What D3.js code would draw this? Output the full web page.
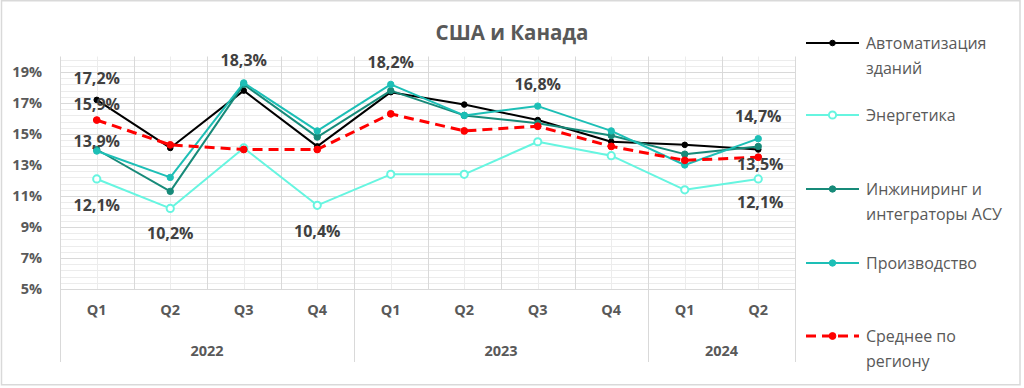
<!DOCTYPE html>
<html><head><meta charset="utf-8">
<script src="https://cdn.jsdelivr.net/npm/d3@7"></script>
<style>html,body{margin:0;padding:0;background:#fff}svg{display:block}text{font-family:"Open Sans","Noto Sans",sans-serif}</style>
</head><body><svg id="c" width="1024" height="388"></svg>
<script>
const title = "США и Канада";
const quarters = ["Q1","Q2","Q3","Q4","Q1","Q2","Q3","Q4","Q1","Q2"];
const years = [{label:"2022", from:0, to:4},{label:"2023", from:4, to:8},{label:"2024", from:8, to:10}];
const yTicks = [5,7,9,11,13,15,17,19];
const seriesNames = ["Автоматизация|зданий","Энергетика","Инжиниринг и|интеграторы АСУ","Производство","Среднее по|региону"];
const automation  = [17.2, 14.1, 17.8, 14.2, 17.7, 16.9, 15.9, 14.5, 14.3, 14.0];
const energy      = [12.1, 10.2, 14.1, 10.4, 12.4, 12.4, 14.5, 13.6, 11.4, 12.1];
const engineering = [14.0, 11.3, 18.2, 14.8, 17.8, 16.2, 15.7, 14.9, 13.7, 14.2];
const production  = [13.9, 12.2, 18.3, 15.2, 18.2, 16.2, 16.8, 15.2, 13.0, 14.7];
const average     = [15.9, 14.3, 14.0, 14.0, 16.3, 15.2, 15.5, 14.2, 13.3, 13.5];
// labelled points: [series index, point index]
const labelled = [[0,0],[4,0],[3,0],[1,0],[1,1],[3,2],[1,3],[3,4],[3,6],[3,9],[4,9],[1,9]];

const seriesData = [automation, energy, engineering, production, average];
const styles = [
  {color:"#000000", w:2, dash:null, r:2.8, hollow:false},
  {color:"#66F5E0", w:2, dash:null, r:3.6, hollow:true},
  {color:"#178A79", w:2, dash:null, r:3.2, hollow:false},
  {color:"#1DBFB6", w:2, dash:null, r:3.2, hollow:false},
  {color:"#FF0000", w:3, dash:"10,6", r:3.4, hollow:false}
];
// label offsets (dx, dy of text centre relative to point)
const labelOffsets = [[0,-22],[0,-16],[0,-10],[0,26],[0,25],[0,-22],[0,26],[0,-22],[0,-22],[0,-22],[2,7],[2,23]];

const svg = d3.select("#c");
const L=60, R=795, T=56.5, B=289;
const x = d3.scaleBand().domain(d3.range(quarters.length)).range([L,R]).padding(0);
const cx = i => x(i) + x.bandwidth()/2;
const y = d3.scaleLinear().domain([5,20]).range([B,T]);

svg.append("rect").attr("x",1.5).attr("y",0.75).attr("width",1018.5).attr("height",384)
  .attr("fill","#fff").attr("stroke","#d9d9d9").attr("stroke-width",1.5);

svg.append("text").attr("x",512).attr("y",40).attr("text-anchor","middle")
  .attr("font-size",20.5).attr("font-weight","bold").attr("fill","#595959").text(title);

const g = svg.append("g");
const minor = d3.range(0,38).map(k=>+(5+0.4*k).toFixed(1)).filter(v=>v<=19.8 && !yTicks.includes(v));
g.selectAll(".mh").data(minor).join("line")
  .attr("x1",L).attr("x2",R).attr("y1",d=>Math.round(y(d))+0.5).attr("y2",d=>Math.round(y(d))+0.5)
  .attr("stroke","#ececec").attr("stroke-width",1);
g.selectAll(".mv").data(d3.range(quarters.length)).join("line")
  .attr("x1",d=>Math.round(cx(d))+0.5).attr("x2",d=>Math.round(cx(d))+0.5).attr("y1",T).attr("y2",B)
  .attr("stroke","#ececec");
g.selectAll(".Mh").data(yTicks).join("line")
  .attr("x1",L).attr("x2",R).attr("y1",d=>Math.round(y(d))+0.5).attr("y2",d=>Math.round(y(d))+0.5)
  .attr("stroke","#d9d9d9");
g.selectAll(".Mv").data(d3.range(quarters.length+1)).join("line")
  .attr("x1",d=>Math.round(L+d*x.bandwidth())+0.5).attr("x2",d=>Math.round(L+d*x.bandwidth())+0.5)
  .attr("y1",T).attr("y2",B).attr("stroke","#d9d9d9");

const yAxis = d3.axisLeft(y).tickValues(yTicks).tickSize(0).tickPadding(0).tickFormat(d=>d+"%");
const ya = svg.append("g").attr("transform",`translate(${L-18},0)`).call(yAxis);
ya.select(".domain").remove();
ya.selectAll("text").attr("font-size",14.5).attr("font-weight","bold").attr("fill","#595959")
  .attr("font-family","'Open Sans',sans-serif");

const xAxis = d3.axisBottom(x).tickSize(0).tickPadding(0).tickFormat(i=>quarters[i]);
const xa = svg.append("g").attr("transform",`translate(0,${B+16})`).call(xAxis);
xa.select(".domain").remove();
xa.selectAll("text").attr("font-size",14.5).attr("font-weight","bold").attr("fill","#595959")
  .attr("font-family","'Open Sans',sans-serif");
svg.append("line").attr("x1",L).attr("x2",R).attr("y1",B+0.5).attr("y2",B+0.5).attr("stroke","#d9d9d9");
const seps = [0,4,8,10];
svg.selectAll(".sep").data(seps).join("line")
  .attr("x1",d=>Math.round(L+d*x.bandwidth())+0.5).attr("x2",d=>Math.round(L+d*x.bandwidth())+0.5)
  .attr("y1",B).attr("y2",362).attr("stroke","#d9d9d9");
svg.selectAll(".yr").data(years).join("text")
  .attr("x",d=>(L+d.from*x.bandwidth()+L+d.to*x.bandwidth())/2).attr("y",356)
  .attr("text-anchor","middle").attr("font-size",14.5).attr("font-weight","bold").attr("fill","#595959")
  .text(d=>d.label);

const line = d3.line().x((d,i)=>cx(i)).y(d=>y(d));
seriesData.forEach((s,k)=>{
  const st = styles[k];
  const sg = svg.append("g");
  sg.append("path").attr("d",line(s)).attr("fill","none").attr("stroke",st.color)
    .attr("stroke-width",st.w).attr("stroke-dasharray",st.dash).attr("stroke-linejoin","round");
  sg.selectAll("circle").data(s).join("circle").attr("cx",(d,i)=>cx(i)).attr("cy",d=>y(d))
    .attr("r",st.r).attr("fill",st.hollow?"#fff":st.color).attr("stroke",st.color).attr("stroke-width",st.hollow?2:1);
});

const fmt = v => d3.format(".1f")(v).replace(".",",")+"%";
svg.selectAll(".dl").data(labelled).join("text")
  .attr("x",(d,j)=>cx(d[1])+labelOffsets[j][0]).attr("y",(d,j)=>y(seriesData[d[0]][d[1]])+labelOffsets[j][1])
  .attr("dy","0.35em").attr("text-anchor","middle").attr("font-size",16).attr("font-weight","bold")
  .attr("fill","#404040").text(d=>fmt(seriesData[d[0]][d[1]]));

const legY = [43,115,189,263,336];
const lg = svg.selectAll(".lg").data(seriesNames).join("g").attr("transform",(d,k)=>`translate(806,${legY[k]})`);
lg.append("line").attr("x1",0).attr("x2",53).attr("y1",0).attr("y2",0)
  .attr("stroke",(d,k)=>styles[k].color).attr("stroke-width",(d,k)=>styles[k].w)
  .attr("stroke-dasharray",(d,k)=>styles[k].dash);
lg.append("circle").attr("cx",26.5).attr("cy",0).attr("r",(d,k)=>styles[k].r)
  .attr("fill",(d,k)=>styles[k].hollow?"#fff":styles[k].color).attr("stroke",(d,k)=>styles[k].color)
  .attr("stroke-width",(d,k)=>styles[k].hollow?2:1);
lg.each(function(d){
  const t = d3.select(this).append("text").attr("x",60).attr("y",0).attr("font-size",16).attr("fill","#595959");
  d.split("|").forEach((p,i)=>t.append("tspan").attr("x",60).attr("dy",i===0?"0.35em":"25px").text(p));
});
</script></body></html>
